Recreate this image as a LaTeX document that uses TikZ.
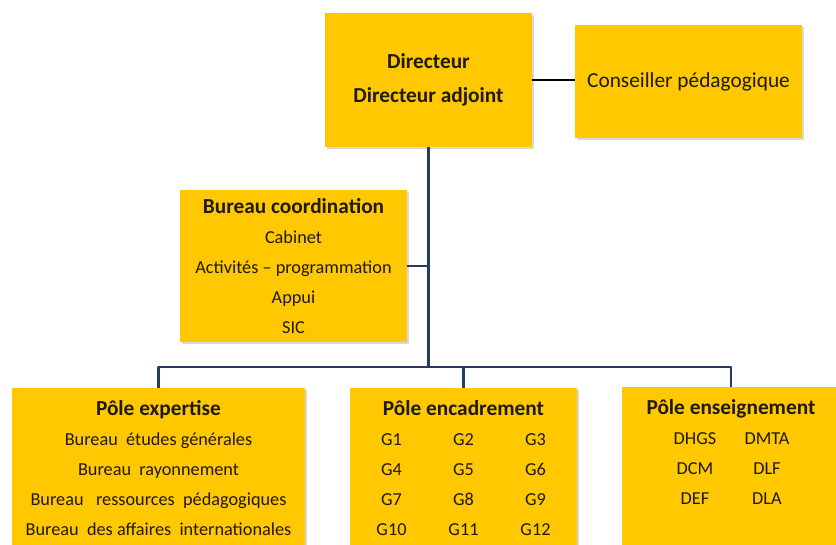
\documentclass[tikz,border=0pt]{standalone}
\usepackage{fontspec}
\setmainfont{Carlito}
\usetikzlibrary{positioning,shadows}
\definecolor{boxgold}{HTML}{FFC800}
\definecolor{linknavy}{HTML}{243B63}
\definecolor{txtdark}{HTML}{201A0A}
\newcommand{\gcell}[1]{\makebox[54pt]{#1}}

\begin{document}
\begin{tikzpicture}[line join=round,x=0.75pt,y=-0.75pt,
    orgbox/.style={fill=boxgold,text=txtdark,align=center,inner sep=0pt,
        drop shadow={shadow xshift=1.2pt,shadow yshift=-1.2pt,opacity=0.3}},
    poletext/.style={text=txtdark,align=center,inner sep=0pt,
        font=\fontsize{13.7}{22.5}\selectfont},
    trunk/.style={draw=linknavy,line width=2.4pt},
    branch/.style={draw=linknavy,line width=1.6pt}]
                \useasboundingbox (0,0) rectangle (836,544);
                \clip (0,0) rectangle (836,544);
                % top row
                \node[orgbox,minimum width=155.25pt,minimum height=100.5pt,
                    font=\bfseries\fontsize{16}{25.5}\selectfont] (directeur) at (428.5,80)
                    {Directeur\\Directeur adjoint};
                \node[orgbox,minimum width=170.25pt,minimum height=84.75pt,
                    font=\fontsize{16}{22.5}\selectfont] (conseiller) at (688.5,81.5)
                    {Conseiller p\'edagogique};
                % bureau coordination
                \node[orgbox,minimum width=170.25pt,minimum height=114pt,
                    font=\fontsize{13.7}{22.5}\selectfont] (coordination) at (293.5,266)
                    {{\bfseries\fontsize{16}{22.5}\selectfont Bureau coordination}\\
                     Cabinet\\Activit\'es -- programmation\\Appui\\SIC};
                % poles
                \node[orgbox,anchor=north,minimum width=219.75pt,minimum height=150pt] (expertise) at (158.5,388) {};
                \node[orgbox,anchor=north,minimum width=170.25pt,minimum height=150pt] (encadrement) at (463.5,388) {};
                \node[orgbox,anchor=north,minimum width=163.5pt,minimum height=150pt] (enseignement) at (731,387) {};
                \node[poletext,below=9.5pt of expertise.north] (expertise-txt)
                    {{\bfseries\fontsize{16}{22.5}\selectfont P\^ole expertise}\\
                     Bureau~ \'etudes g\'en\'erales\\
                     Bureau~ rayonnement\\
                     Bureau~~ ressources~ p\'edagogiques\\
                     Bureau~ des affaires~ internationales};
                \node[poletext,below=9.5pt of encadrement.north] (encadrement-txt)
                    {{\bfseries\fontsize{16}{22.5}\selectfont P\^ole encadrement}\\
                     \gcell{G1}\gcell{G2}\gcell{G3}\\
                     \gcell{G4}\gcell{G5}\gcell{G6}\\
                     \gcell{G7}\gcell{G8}\gcell{G9}\\
                     \gcell{G10}\gcell{G11}\gcell{G12}};
                \node[poletext,below=9.5pt of enseignement.north] (enseignement-txt)
                    {{\bfseries\fontsize{16}{22.5}\selectfont P\^ole enseignement}\\
                     \gcell{DHGS}\gcell{DMTA}\\
                     \gcell{DCM}\gcell{DLF}\\
                     \gcell{DEF}\gcell{DLA}};
                % connectors
                \coordinate (bus) at (428.5,367);
                \draw [line width=2.2pt,black] (directeur.east) -- (directeur.east -| conseiller.west);
                \draw [trunk] (directeur.south) -- (bus);
                \draw [branch] (coordination.east) -- (coordination.east -| directeur.south);
                \draw [branch] (expertise.north) |- (bus) -| (enseignement.north);
                \draw [branch] (encadrement.north) -- (encadrement.north |- bus);
\end{tikzpicture}
\end{document}
